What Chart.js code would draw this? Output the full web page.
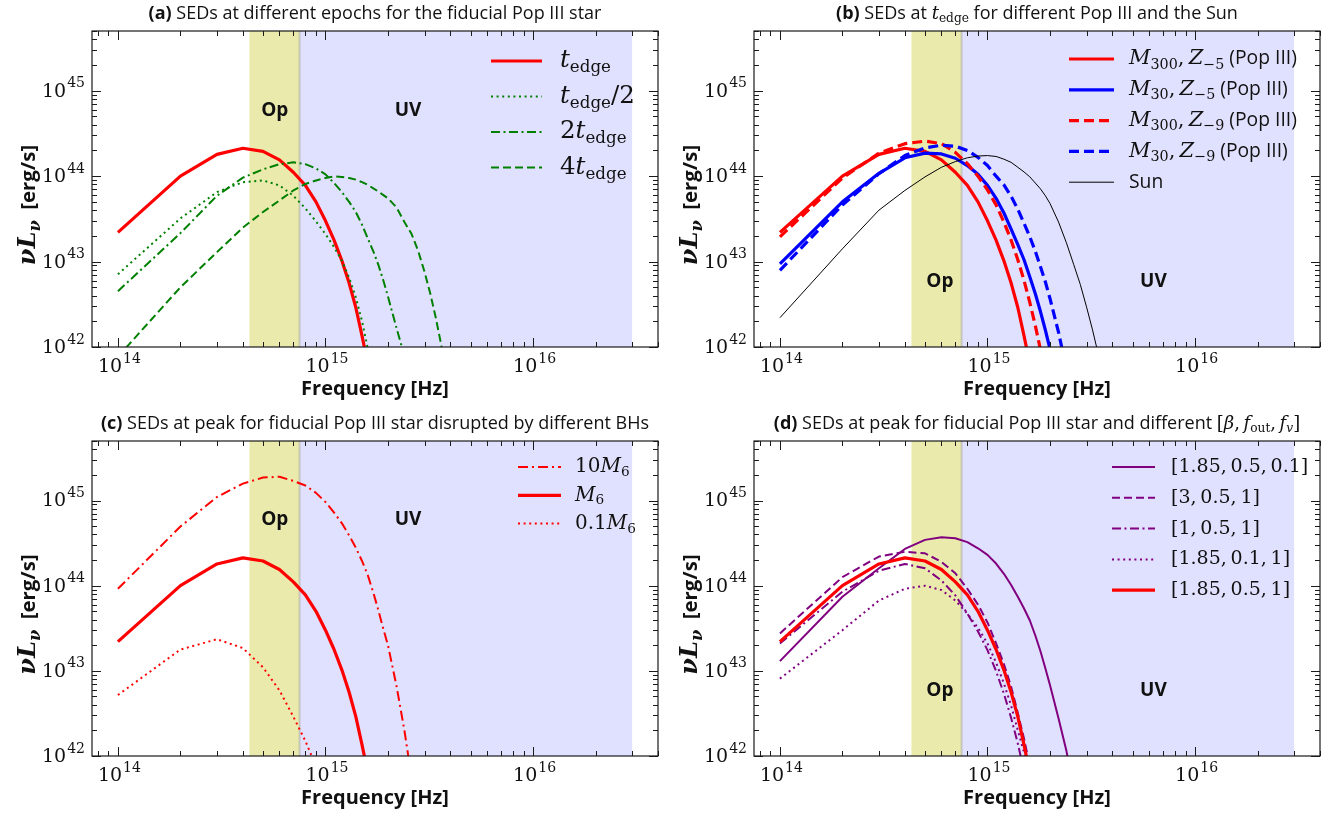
<!DOCTYPE html>
<html>
<head>
<meta charset="utf-8">
<script src="https://cdn.jsdelivr.net/npm/chart.js@4.4.1/dist/chart.umd.min.js"></script>
<style>
html, body { margin: 0; padding: 0; background: #fff; }
#wrap { position: relative; width: 1344px; height: 819px; overflow: hidden; }
.panel { position: absolute; }
</style>
</head>
<body>
<div id="wrap">
  <div class="panel" style="left:0;top:0;width:662px;height:410px"><canvas id="pa"></canvas></div>
  <div class="panel" style="left:662px;top:0;width:682px;height:410px"><canvas id="pb"></canvas></div>
  <div class="panel" style="left:0;top:410px;width:662px;height:409px"><canvas id="pc"></canvas></div>
  <div class="panel" style="left:662px;top:410px;width:682px;height:409px"><canvas id="pd"></canvas></div>
</div>
<script>
// frequency grid, in units of 1e14 Hz
const NU = [1, 2, 3, 4, 5, 6, 7, 8, 9, 10, 11, 12, 13, 14, 15, 16, 17, 18, 19, 20,
            22, 24, 26, 28, 30, 32, 34, 36, 38];

// wavebands [Hz]
const BAND_OP = [4.3e14, 7.5e14];
const BAND_UV = [7.5e14, 3e16];

// axis limits
const X_RANGE = [7.5e13, 4e16];
const Y_RANGE = [1e42, 5e45];

// fiducial Pop III star at t_edge / peak (erg/s)
const fiducial = [2.2e43, 1.0e44, 1.8e44, 2.12e44, 1.95e44, 1.55e44, 1.11e44, 7.8e43, 5.0e43, 3.0e43,
                  1.78e43, 1.02e43, 5.6e42, 2.9e42, 1.35e42, 6.3e41];

// (a) epochs
const tHalf = [7.1e42, 3.2e43, 6.5e43, 8.5e43, 8.9e43, 7.8e43, 5.9e43, 4.2e43, 2.95e43, 2.1e43,
               1.48e43, 1.02e43, 6.5e42, 3.8e42, 2.0e42, 9.5e41, 4.2e41];
const t2 = [4.5e42, 2.15e43, 5.9e43, 9.6e43, 1.2e44, 1.38e44, 1.45e44, 1.38e44, 1.23e44, 1.05e44,
            8.3e43, 6.5e43, 5.0e43, 3.8e43, 2.7e43, 1.86e43, 1.32e43, 9.1e42, 6.0e42, 3.9e42,
            1.66e42, 7.9e41];
const t4 = [7.7e41, 5.0e42, 1.29e43, 2.5e43, 3.8e43, 5.2e43, 6.8e43, 8.1e43, 8.9e43, 9.5e43,
            9.9e43, 9.8e43, 9.5e43, 9.1e43, 8.5e43, 7.9e43, 7.2e43, 6.6e43, 6.0e43, 5.5e43,
            4.3e43, 2.9e43, 2.1e43, 1.32e43, 7.6e42, 4.2e42, 2.2e42, 1.1e42, 5.2e41];

// (b) stars
const m30z5 = [9.4e42, 5.0e43, 1.08e44, 1.64e44, 1.86e44, 1.82e44, 1.62e44, 1.33e44, 1.05e44, 7.8e43,
               5.5e43, 3.7e43, 2.4e43, 1.58e43, 1.05e43, 6.6e42, 4.2e42, 2.6e42, 1.58e42, 9.5e41,
               3.2e41];
const m300z9 = [1.95e43, 9.5e43, 1.86e44, 2.4e44, 2.57e44, 2.4e44, 1.9e44, 1.4e44, 1.0e44, 6.9e43,
                4.6e43, 2.9e43, 1.78e43, 1.05e43, 6.0e42, 3.3e42, 1.78e42, 9.3e41, 4.8e41];
const m30z9 = [7.9e42, 4.6e43, 1.07e44, 1.74e44, 2.14e44, 2.3e44, 2.24e44, 2.0e44, 1.66e44, 1.33e44,
               1.0e44, 7.9e43, 5.8e43, 4.1e43, 2.8e43, 1.95e43, 1.32e43, 8.7e42, 5.8e42, 3.7e42,
               1.48e42, 5.5e41];
const sun = [2.2e42, 1.41e43, 4.0e43, 6.8e43, 9.8e43, 1.27e44, 1.48e44, 1.64e44, 1.72e44, 1.74e44,
             1.7e44, 1.58e44, 1.45e44, 1.27e44, 1.12e44, 9.8e43, 8.3e43, 7.1e43, 5.9e43, 4.8e43,
             2.9e43, 1.66e43, 9.3e42, 5.4e42, 2.95e42, 1.62e42, 8.7e41, 4.7e41];

// (c) black hole mass
const bh10 = [9.2e43, 4.95e44, 1.1e45, 1.58e45, 1.86e45, 1.9e45, 1.7e45, 1.5e45, 1.23e45, 9.6e44,
              7.2e44, 5.4e44, 3.9e44, 2.8e44, 1.95e44, 1.32e44, 8.3e43, 5.1e43, 3.1e43, 2.0e43,
              6.6e42, 2.0e42, 5.5e41];
const bh01 = [5.2e42, 1.78e43, 2.35e43, 1.85e43, 1.1e43, 5.9e42, 2.9e42, 1.5e42, 7.6e41];

// (d) [beta, f_out, f_v]
const pA = [1.3e43, 7.4e43, 1.6e44, 2.7e44, 3.45e44, 3.7e44, 3.6e44, 3.25e44, 2.75e44, 2.3e44,
            1.82e44, 1.38e44, 1.02e44, 7.4e43, 5.4e43, 3.9e43, 2.6e43, 1.7e43, 1.07e43, 6.8e42,
            2.75e42, 1.15e42, 4.2e41];
const pB = [2.75e43, 1.26e44, 2.2e44, 2.5e44, 2.4e44, 1.9e44, 1.4e44, 9.2e43, 6.0e43, 3.7e43,
            2.1e43, 1.2e43, 6.5e42, 3.2e42, 1.6e42, 7.6e41];
const pC = [2.1e43, 8.5e43, 1.5e44, 1.8e44, 1.6e44, 1.15e44, 7.7e43, 4.7e43, 2.9e43, 1.75e43,
            9.9e42, 5.4e42, 2.8e42, 1.4e42, 6.6e41];
const pD = [8.1e42, 3.0e43, 6.7e43, 9.2e43, 1.0e44, 8.9e43, 6.7e43, 4.7e43, 3.2e43, 2.1e43,
            1.25e43, 7.1e42, 3.9e42, 2.0e42, 1.1e42, 5.2e41];

const SERIF = '"DejaVu Serif", serif';
const SANS = '"Open Sans", Lato, sans-serif';

function pts(vals) {
  return vals.map((v, i) => ({ x: NU[i] * 1e14, y: v }));
}

// tiny text renderer: $..$ = math (letters italic), _x / _{..} = subscript, *..* = bold
function richSegs(str) {
  const out = [];
  let math = false, bold = false;
  for (let i = 0; i < str.length; i++) {
    const c = str[i];
    if (c === '$') { math = !math; continue; }
    if (c === '*' && !math) { bold = !bold; continue; }
    let t = c, k;
    if (!math) k = 'txt';
    else if (c === '_') {
      if (str[i + 1] === '{') { const j = str.indexOf('}', i); t = str.slice(i + 2, j); i = j; }
      else { t = str[i + 1]; i++; }
      k = /^[a-zA-Zα-ω]$/.test(t) ? 'subi' : 'subr';
    } else {
      if (c === ' ') t = '\u2009';
      k = /[a-zA-Zα-ω]/.test(c) ? 'mi' : 'mr';
    }
    const last = out[out.length - 1];
    if (last && last.k === k && last.b === bold && k !== 'subi' && k !== 'subr') last.t += t;
    else out.push({ t, k, b: bold });
  }
  return out;
}
function segFont(s, size, forceBold, sansScale) {
  const w = (s.b || forceBold) ? 'bold ' : '';
  const sub = s.k === 'subi' || s.k === 'subr';
  let px = sub ? size * 0.68 : size;
  if (s.k === 'txt') px = size * sansScale;
  const it = (s.k === 'mi' || s.k === 'subi') ? 'italic ' : '';
  return it + w + px.toFixed(1) + 'px ' + (s.k === 'txt' ? SANS : SERIF);
}
function drawRich(ctx, str, x, y, size, align, forceBold, sansScale) {
  sansScale = sansScale || 1;
  const segs = richSegs(str);
  let total = 0;
  segs.forEach(s => { ctx.font = segFont(s, size, forceBold, sansScale); s.w = ctx.measureText(s.t).width; total += s.w; });
  let cx = align === 'center' ? x - total / 2 : align === 'right' ? x - total : x;
  ctx.textAlign = 'left';
  ctx.textBaseline = 'middle';
  segs.forEach(s => {
    ctx.font = segFont(s, size, forceBold, sansScale);
    const dy = (s.k === 'subi' || s.k === 'subr') ? size * 0.28 : 0;
    ctx.fillText(s.t, cx, y + dy);
    cx += s.w;
  });
}

const mplPlugin = {
  id: 'mpl',
  beforeDatasetsDraw(chart, args, o) {
    const { ctx, chartArea: a, scales: { x, y } } = chart;
    ctx.save();
    ctx.beginPath(); ctx.rect(a.left, a.top, a.width, a.height); ctx.clip();
    const op0 = x.getPixelForValue(BAND_OP[0]), op1 = x.getPixelForValue(BAND_OP[1]);
    const uv0 = x.getPixelForValue(BAND_UV[0]), uv1 = x.getPixelForValue(BAND_UV[1]);
    ctx.fillStyle = 'rgba(191,191,0,0.32)';
    ctx.fillRect(op0, a.top, op1 - op0, a.height);
    ctx.fillStyle = 'rgba(0,0,255,0.12)';
    ctx.fillRect(uv0, a.top, uv1 - uv0, a.height);
    ctx.fillStyle = 'rgba(160,160,150,0.45)';
    ctx.fillRect(op1 - 1, a.top, 2, a.height);
    ctx.fillStyle = '#111';
    ctx.font = 'bold 19px ' + SANS;
    ctx.textAlign = 'center'; ctx.textBaseline = 'middle';
    ctx.fillText('Op', x.getPixelForValue(o.opAt[0]), y.getPixelForValue(o.opAt[1]));
    ctx.fillText('UV', x.getPixelForValue(o.uvAt[0]), y.getPixelForValue(o.uvAt[1]));
    ctx.restore();
  },
  afterDraw(chart, args, o) {
    const { ctx, chartArea: a, scales: { x, y } } = chart;
    ctx.save();
    ctx.strokeStyle = '#1a1a1a';
    ctx.lineWidth = 1.2;
    ctx.strokeRect(a.left, a.top, a.width, a.height);
    // inward log ticks on all sides
    ctx.lineWidth = 1;
    ctx.beginPath();
    for (let d = 13; d <= 17; d++) {
      for (let m = 1; m <= 9; m++) {
        const v = m * Math.pow(10, d);
        if (v < X_RANGE[0] || v > X_RANGE[1]) continue;
        const px = Math.round(x.getPixelForValue(v)) + 0.5, len = m === 1 ? 9 : 5;
        ctx.moveTo(px, a.bottom); ctx.lineTo(px, a.bottom - len);
        ctx.moveTo(px, a.top); ctx.lineTo(px, a.top + len);
      }
    }
    for (let d = 41; d <= 46; d++) {
      for (let m = 1; m <= 9; m++) {
        const v = m * Math.pow(10, d);
        if (v < Y_RANGE[0] || v > Y_RANGE[1]) continue;
        const py = Math.round(y.getPixelForValue(v)) + 0.5, len = m === 1 ? 9 : 5;
        ctx.moveTo(a.left, py); ctx.lineTo(a.left + len, py);
        ctx.moveTo(a.right, py); ctx.lineTo(a.right - len, py);
      }
    }
    ctx.stroke();
    // tick labels
    ctx.fillStyle = '#111';
    ctx.textBaseline = 'middle';
    for (let d = 14; d <= 16; d++) {
      const px = x.getPixelForValue(Math.pow(10, d));
      ctx.font = '19px ' + SERIF;
      const w1 = ctx.measureText('10').width;
      ctx.font = '14px ' + SERIF;
      const w2 = ctx.measureText(String(d)).width;
      const x0 = px - (w1 + w2) / 2 + 1;
      ctx.textAlign = 'left';
      ctx.font = '19px ' + SERIF;
      ctx.fillText('10', x0, a.bottom + 20);
      ctx.font = '14px ' + SERIF;
      ctx.fillText(String(d), x0 + w1 + 1, a.bottom + 12);
    }
    for (let d = 42; d <= 45; d++) {
      const py = y.getPixelForValue(Math.pow(10, d));
      ctx.font = '14px ' + SERIF;
      const w2 = ctx.measureText(String(d)).width;
      ctx.textAlign = 'right';
      ctx.fillText(String(d), a.left - 7, py - 7);
      ctx.font = '19px ' + SERIF;
      ctx.fillText('10', a.left - 8 - w2, py + 1);
    }
    // axis titles
    drawRich(ctx, '*Frequency [Hz]*', (a.left + a.right) / 2, a.bottom + 42, 20, 'center', true);
    ctx.save();
    ctx.translate(a.left - 63, (a.top + a.bottom) / 2 + 16);
    ctx.rotate(-Math.PI / 2);
    drawRich(ctx, '$νL_ν$  *[erg/s]*', 0, 0, 24, 'center', true, 0.85);
    ctx.restore();
    // panel title
    drawRich(ctx, o.title, (a.left + a.right) / 2, a.top - 17, 18, 'center', false, 1);
    // legend
    const L = o.legend;
    chart.data.datasets.forEach((ds, i) => {
      const yy = L.y + i * L.dy;
      ctx.save();
      ctx.strokeStyle = ds.borderColor;
      ctx.lineWidth = ds.borderWidth;
      ctx.setLineDash(ds.borderDash || []);
      ctx.beginPath(); ctx.moveTo(L.x0, yy); ctx.lineTo(L.x1, yy); ctx.stroke();
      ctx.restore();
      ctx.fillStyle = '#111';
      drawRich(ctx, ds.label, L.tx, yy, L.size, 'left', false, L.sansScale || 0.92);
    });
    ctx.restore();
  }
};

function line(label, vals, color, width, dash) {
  return { label, data: pts(vals), borderColor: color, borderWidth: width, borderDash: dash || [],
           pointRadius: 0, tension: 0, fill: false, borderCapStyle: 'butt', borderJoinStyle: 'round', clip: 0 };
}

function makeChart(id, datasets, opts) {
  datasets.forEach((ds, i) => { ds.order = -i; });
  return new Chart(document.getElementById(id), {
    type: 'line',
    data: { datasets },
    options: {
      responsive: true,
      maintainAspectRatio: false,
      animation: false,
      layout: { padding: { left: 92, top: 31, right: opts.right, bottom: opts.bottom } },
      scales: {
        x: { type: 'logarithmic', min: X_RANGE[0], max: X_RANGE[1], display: false },
        y: { type: 'logarithmic', min: Y_RANGE[0], max: Y_RANGE[1], display: false }
      },
      plugins: {
        legend: { display: false },
        tooltip: { enabled: false },
        mpl: opts.mpl
      }
    },
    plugins: [mplPlugin]
  });
}

const RED = 'rgb(255,0,0)', GREEN = 'rgb(0,128,0)', BLUE = 'rgb(0,0,255)', PURPLE = 'rgb(128,0,128)';

makeChart('pa', [
  line('$t_{edge}$', fiducial, RED, 3.2),
  line('$t_{edge}/2$', tHalf, GREEN, 2, [2, 3.6]),
  line('$2t_{edge}$', t2, GREEN, 2, [9, 3.5, 2, 3.5]),
  line('$4t_{edge}$', t4, GREEN, 2, [8, 4])
], { right: 4, bottom: 63, mpl: {
  title: '*(a)* SEDs at different epochs for the fiducial Pop III star',
  opAt: [5.7e14, 5.9e44], uvAt: [2.5e15, 5.9e44],
  legend: { x0: 491, x1: 542, tx: 560, y: 61, dy: 35.5, size: 24.5 }
} });

makeChart('pb', [
  line('$M_{300}, Z_{−5}$ (Pop III)', fiducial, RED, 3.2),
  line('$M_{30}, Z_{−5}$ (Pop III)', m30z5, BLUE, 3.2),
  line('$M_{300}, Z_{−9}$ (Pop III)', m300z9, RED, 3.2, [10, 5]),
  line('$M_{30}, Z_{−9}$ (Pop III)', m30z9, BLUE, 3.2, [10, 5]),
  line('Sun', sun, 'rgb(0,0,0)', 1)
], { right: 24, bottom: 63, mpl: {
  title: '*(b)* SEDs at $t_{edge}$ for different Pop III and the Sun',
  opAt: [5.9e14, 5.9e42], uvAt: [6.3e15, 5.9e42],
  legend: { x0: 407, x1: 452, tx: 467, y: 59, dy: 30.8, size: 21 }
} });

makeChart('pc', [
  line('$10M_6$', bh10, RED, 2, [10, 4, 2, 4]),
  line('$M_6$', fiducial, RED, 3.2),
  line('$0.1M_6$', bh01, RED, 2, [2, 3.6])
], { right: 4, bottom: 63, mpl: {
  title: '*(c)* SEDs at peak for fiducial Pop III star disrupted by different BHs',
  opAt: [5.7e14, 5.9e44], uvAt: [2.5e15, 5.9e44],
  legend: { x0: 518, x1: 561, tx: 575, y: 57, dy: 28.3, size: 20 }
} });

makeChart('pd', [
  line('$[1.85, 0.5, 0.1]$', pA, PURPLE, 2),
  line('$[3, 0.5, 1]$', pB, PURPLE, 2, [8, 4]),
  line('$[1, 0.5, 1]$', pC, PURPLE, 2, [9, 3.5, 2, 3.5]),
  line('$[1.85, 0.1, 1]$', pD, PURPLE, 2, [2, 3.6]),
  line('$[1.85, 0.5, 1]$', fiducial, RED, 3.2)
], { right: 24, bottom: 63, mpl: {
  title: '*(d)* SEDs at peak for fiducial Pop III star and different $[β, f_{out}, f_v]$',
  opAt: [5.9e14, 5.9e42], uvAt: [6.3e15, 5.9e42],
  legend: { x0: 450, x1: 493, tx: 509, y: 57, dy: 30.8, size: 19 }
} });
</script>
</body>
</html>
